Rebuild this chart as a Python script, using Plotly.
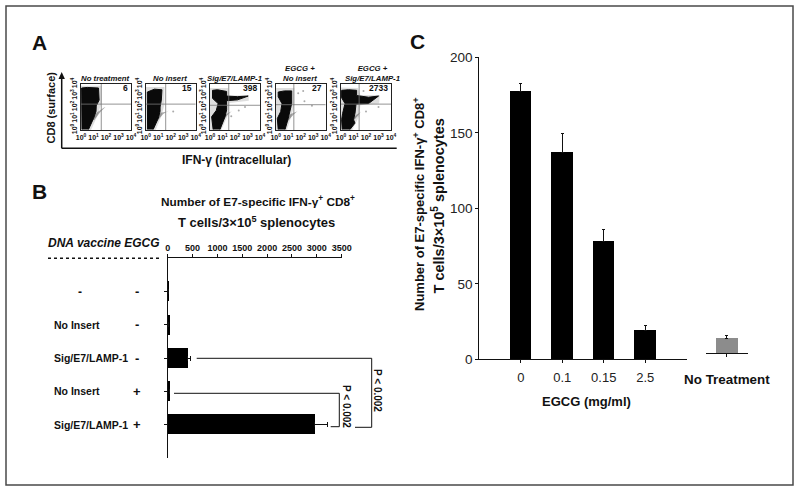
import plotly.graph_objects as go

W, H = 800, 492
FONT = "Liberation Sans"
INK = "#111111"

# ---------- Panel A : flow plots (log10 decades on both axes) ----------
flow_titles = ["No treatment", "No insert", "Sig/E7/LAMP-1", "EGCG +<br>No insert", "EGCG +<br>Sig/E7/LAMP-1"]
flow_counts = ["6", "15", "398", "27", "2733"]
flow_ticks = [0, 1, 2, 3, 4]
flow_ticktext = ["10<sup>0</sup>", "10<sup>1</sup>", "10<sup>2</sup>", "10<sup>3</sup>", "10<sup>4</sup>"]
gate_x = [1.62, 1.6, 1.5, 1.45, 1.45]
gate_y = [2.25, 2.25, 2.15, 2.2, 2.25]

blob_x = [
    [0.08, 0.05, 0.5, 1.4, 1.45, 1.22, 1.2, 1.0, 0.6],
    [0.15, 0.13, 0.7, 1.3, 1.25, 1.15, 1.15, 1.0, 0.6],
    [0.25, 0.13, 0.5, 0.65, 0.2, 0.2, 0.6, 1.33, 1.33, 2.2, 3.05, 2.2, 1.33, 1.33, 1.2, 0.8],
    [0.2, 0.13, 0.4, 0.5, 0.2, 0.2, 0.7, 1.28, 1.28, 1.15, 1.0, 0.75],
    [0.1, 0.05, 0.13, 0.32, 0.05, 0.05, 0.6, 1.25, 1.25, 2.2, 3.0, 2.2, 1.2, 1.12, 1.0, 1.12, 0.72],
]
blob_y = [
    [0.05, 3.65, 3.7, 3.65, 2.6, 2.1, 1.6, 1.0, 0.05],
    [0.05, 3.3, 3.55, 3.5, 2.6, 2.0, 1.6, 1.0, 0.05],
    [0.05, 1.15, 1.7, 2.3, 2.75, 3.45, 3.5, 3.35, 2.95, 2.9, 2.95, 2.62, 2.55, 1.75, 1.15, 0.05],
    [0.05, 1.0, 1.6, 2.3, 2.9, 3.3, 3.4, 3.4, 2.3, 1.6, 1.0, 0.05],
    [0.05, 0.9, 1.45, 2.3, 2.8, 3.45, 3.5, 3.45, 3.0, 2.85, 2.95, 2.3, 2.25, 1.45, 0.9, 0.6, 0.05],
]
tail_x = [
    [0.9, 1.3, 1.85, 1.95, 1.5, 1.05],
    [0.9, 1.2, 1.75, 1.85, 1.4, 1.0],
    [0.9, 1.3, 1.7, 1.8, 1.4, 1.0],
    [0.9, 1.2, 1.7, 1.8, 1.4, 1.0],
    [0.9, 1.2, 1.5, 1.6, 1.4, 1.0],
]
tail_y = [
    [1.0, 1.55, 1.95, 2.0, 1.5, 0.85],
    [1.0, 1.5, 1.6, 1.7, 1.4, 0.9],
    [1.0, 1.4, 1.6, 1.7, 1.3, 0.8],
    [1.0, 1.4, 1.6, 1.7, 1.3, 0.8],
    [1.0, 1.3, 1.5, 1.6, 1.3, 0.8],
]
halo_x = [
    [0.0, 0.0, 1.65, 1.65, 1.3, 0.8],
    [0.0, 0.0, 1.5, 1.5, 1.25, 0.8],
    [0.0, 0.0, 1.45, 1.55, 3.1, 3.1, 1.55, 1.4, 0.9],
    [0.0, 0.0, 1.5, 1.5, 1.25, 0.9],
    [0.0, 0.0, 1.35, 1.55, 3.1, 3.05, 1.55, 1.45, 0.9],
]
halo_y = [
    [0.0, 3.85, 3.85, 2.4, 1.2, 0.0],
    [0.0, 3.75, 3.75, 2.2, 1.2, 0.0],
    [0.0, 3.65, 3.65, 3.0, 3.05, 2.55, 2.35, 1.2, 0.0],
    [0.0, 3.65, 3.65, 2.2, 1.2, 0.0],
    [0.0, 3.7, 3.65, 3.05, 3.05, 2.3, 2.15, 1.2, 0.0],
]
speck_x = [[], [2.2], [2.3, 2.8, 1.7], [2.3, 2.9, 2.2, 1.8], [2.0, 3.0, 1.8]]
speck_y = [[], [1.6], [1.7, 2.0, 1.2], [2.5, 2.1, 3.4, 3.2], [1.6, 2.0, 3.4]]

# ---------- Panel B ----------
b_dna = ["-", "No Insert", "Sig/E7/LAMP-1", "No Insert", "Sig/E7/LAMP-1"]
b_egcg = ["-", "-", "-", "+", "+"]
b_pos = [0, 1, 2, 3, 4]
b_values = [6, 25, 395, 30, 2960]
b_err = [None, None, 55, None, 250]
b_ticks = [0, 500, 1000, 1500, 2000, 2500, 3000, 3500]

# ---------- Panel C ----------
c_labels = ["0", "0.1", "0.15", "2.5"]
c_pos = [0, 1, 2, 3]
c_values = [177.5, 136.8, 78.2, 19]
c_err = [5.3, 12.6, 8, 3.3]
c_ticks = [0, 50, 100, 150, 200]
ctrl_label = ["No Treatment"]
ctrl_value = [14]
ctrl_base = [4]
ctrl_err = [1.7]


def px(x):
    return x / W


def py(y):
    return 1 - y / H


fig = go.Figure()
layout = dict(
    width=W, height=H, margin=dict(l=0, r=0, t=0, b=0, autoexpand=False),
    paper_bgcolor="white", plot_bgcolor="rgba(0,0,0,0)", showlegend=False,
    font=dict(family=FONT, color=INK), bargap=0,
)
ann = []
shp = []


def text(x, y, s, size, angle=0, xanchor="center", yanchor="middle"):
    ann.append(dict(x=px(x), y=py(y), xref="paper", yref="paper", text=s, showarrow=False,
                    font=dict(family=FONT, size=size, color=INK), textangle=angle,
                    xanchor=xanchor, yanchor=yanchor, borderpad=0, borderwidth=0))


def line(x0, y0, x1, y1, width=1.2, dash="solid", color=INK):
    shp.append(dict(type="line", xref="paper", yref="paper", x0=px(x0), y0=py(y0), x1=px(x1), y1=py(y1),
                    line=dict(color=color, width=width, dash=dash)))


# Flow panels
flow_left = [81, 145.7, 210, 275.7, 341]
flow_right = [131, 195.7, 260, 325.7, 391]
flow_center = [104.5, 170, 234, 300, 372]
FT, FB = 84, 130
for i in range(5):
    n = i + 1
    xa, ya = f"x{n}", f"y{n}"
    fig.add_trace(go.Scatter(x=halo_x[i], y=halo_y[i], xaxis=xa, yaxis=ya, mode="lines", fill="toself",
                             fillcolor="rgba(0,0,0,0.13)", line=dict(width=0), hoverinfo="skip"))
    fig.add_trace(go.Scatter(x=tail_x[i], y=tail_y[i], xaxis=xa, yaxis=ya, mode="lines", fill="toself",
                             fillcolor="rgba(40,40,40,0.4)", line=dict(width=0), hoverinfo="skip"))
    fig.add_trace(go.Scatter(x=blob_x[i], y=blob_y[i], xaxis=xa, yaxis=ya, mode="lines", fill="toself",
                             fillcolor="#0a0a0a", line=dict(width=1, color="#0a0a0a"), hoverinfo="skip"))
    fig.add_trace(go.Scatter(x=speck_x[i], y=speck_y[i], xaxis=xa, yaxis=ya, mode="markers",
                             marker=dict(size=2, color="#aaaaaa"), hoverinfo="skip"))
    fig.add_trace(go.Scatter(x=[gate_x[i], gate_x[i]], y=[0, 4], xaxis=xa, yaxis=ya, mode="lines",
                             line=dict(color="#777777", width=0.8), hoverinfo="skip"))
    fig.add_trace(go.Scatter(x=[0, 4], y=[gate_y[i], gate_y[i]], xaxis=xa, yaxis=ya, mode="lines",
                             line=dict(color="#777777", width=0.8), hoverinfo="skip"))
    common = dict(range=[0, 4], tickmode="array", tickvals=flow_ticks, ticktext=flow_ticktext,
                  showgrid=False, zeroline=False, showline=True, mirror=True, linecolor="#222222",
                  linewidth=1.2, ticks="", tickfont=dict(family=FONT, size=7, weight="bold", color=INK))
    layout[f"xaxis{n}" if n > 1 else "xaxis"] = dict(common, domain=[px(flow_left[i]), px(flow_right[i])],
                                                     anchor=ya, tickangle=0)
    layout[f"yaxis{n}" if n > 1 else "yaxis"] = dict(common, domain=[py(FB), py(FT)], anchor=xa, tickangle=-90)
    ann.append(dict(x=3.9, y=3.62, xref=xa, yref=ya, text=f"<b>{flow_counts[i]}</b>", showarrow=False,
                    xanchor="right", yanchor="middle", font=dict(family=FONT, size=8.5, color=INK)))
    text(flow_center[i], 83, f"<b><i>{flow_titles[i]}</i></b>", 7.8, yanchor="bottom")

# Panel A axes arrow and labels
line(61.7, 148.3, 396.7, 148.3, 1.5)
line(61.7, 148.3, 61.7, 75, 1.5)
shp.append(dict(type="path", xref="paper", yref="paper", fillcolor=INK, line=dict(width=0),
                path=f"M {px(58.5)} {py(79)} L {px(64.9)} {py(79)} L {px(61.7)} {py(72)} Z"))
text(50, 107.5, "<b>CD8 (surface)</b>", 11, angle=-90)
text(236, 160, "<b>IFN-γ (intracellular)</b>", 12)
text(39, 42.5, "<b>A</b>", 21)
text(39, 191, "<b>B</b>", 21)
text(417, 41.5, "<b>C</b>", 21)

# Panel B
fig.add_trace(go.Bar(x=b_values, y=b_pos, orientation="h", xaxis="x6", yaxis="y6", width=0.6,
                     marker=dict(color="#000000", line=dict(width=0)),
                     error_x=dict(type="data", array=b_err, symmetric=False, color=INK, thickness=1, width=2.5)))
layout["xaxis6"] = dict(domain=[px(167.7), px(341.7)], anchor="y6", side="top", range=[0, 3500],
                        tickmode="array", tickvals=b_ticks, ticks="outside", ticklen=3, tickwidth=1,
                        tickcolor=INK, showline=True, linecolor=INK, linewidth=1.2, showgrid=False,
                        zeroline=False, tickfont=dict(family=FONT, size=9, weight="bold", color=INK), tickangle=0)
layout["yaxis6"] = dict(domain=[py(458), py(258.3)], anchor="x6", range=[5, -1], tickmode="array",
                        tickvals=b_pos, ticktext=[""] * 5, ticks="outside", ticklen=3, tickwidth=1, tickcolor=INK,
                        showline=True, linecolor=INK, linewidth=1.2, showgrid=False, zeroline=False)
text(258, 201.5, "<b>Number of E7-specific IFN-γ<sup>+</sup> CD8<sup>+</sup></b>", 11.8)
text(256.7, 222.5, "<b>T cells/3×10<sup>5</sup> splenocytes</b>", 13)
text(48, 243, "<b><i>DNA vaccine EGCG</i></b>", 12, xanchor="left")
line(48, 258.3, 161.7, 258.3, 1.5, dash="dot")
for i in range(5):
    lab = b_dna[i]
    ann.append(dict(xref="paper", yref="y6", x=px(80) if lab == "-" else px(52), y=b_pos[i],
                    text=f"<b>{lab}</b>", showarrow=False, xanchor="center" if lab == "-" else "left",
                    font=dict(family=FONT, size=12 if lab == "-" else 10.5, color=INK)))
    ann.append(dict(xref="paper", yref="y6", x=px(136.7), y=b_pos[i], text=f"<b>{b_egcg[i]}</b>", showarrow=False,
                    xanchor="center", font=dict(family=FONT, size=13, color=INK)))
# significance brackets
for seg in [(196.7, 358.3, 371.7, 358.3), (371.7, 358.3, 371.7, 427.3), (371.7, 427.3, 355, 427.3),
            (174, 393.3, 339.3, 393.3), (339.3, 393.3, 339.3, 426.7), (339.3, 426.7, 330.7, 426.7)]:
    line(*seg, 1)
text(378, 390, "<b>P &lt; 0.002</b>", 10, angle=90)
text(346.7, 406.7, "<b>P &lt; 0.002</b>", 10, angle=90)

# Panel C
fig.add_trace(go.Bar(x=c_pos, y=c_values, xaxis="x7", yaxis="y7", width=0.52,
                     marker=dict(color="#000000", line=dict(width=0)),
                     error_y=dict(type="data", array=c_err, symmetric=False, color=INK, thickness=1, width=1.5)))
layout["xaxis7"] = dict(domain=[px(479.3), px(686.7)], anchor="y7", range=[-1, 4], tickmode="array",
                        tickvals=c_pos, ticktext=c_labels, ticks="outside", ticklen=3, tickwidth=1, tickcolor=INK,
                        showline=True, linecolor=INK, linewidth=1.2, showgrid=False, zeroline=False,
                        ticklabelstandoff=3, tickfont=dict(family=FONT, size=13, color="#222222"))
layout["yaxis7"] = dict(domain=[py(359.3), py(57.3)], anchor="x7", range=[0, 200], tickmode="array",
                        tickvals=c_ticks, ticks="outside", ticklen=3, tickwidth=1, tickcolor=INK,
                        showline=True, linecolor=INK, linewidth=1.2, showgrid=False, zeroline=False,
                        tickfont=dict(family=FONT, size=13.5, color="#222222"))
fig.add_trace(go.Bar(x=[0], y=[ctrl_value[0] - ctrl_base[0]], base=ctrl_base, xaxis="x8", yaxis="y7", width=0.52,
                     marker=dict(color="#8c8c8c", line=dict(width=0)),
                     error_y=dict(type="data", array=ctrl_err, symmetric=False, color=INK, thickness=1, width=1.5)))
layout["xaxis8"] = dict(domain=[px(706), px(747.7)], anchor="free", position=py(353.3),
                        range=[-0.5, 0.5], tickmode="array", tickvals=[0], ticktext=[f"<b>{ctrl_label[0]}</b>"],
                        ticks="outside", ticklen=3, tickwidth=1, tickcolor=INK, showline=True, linecolor=INK,
                        linewidth=1.2, showgrid=False, zeroline=False, ticklabelstandoff=11, tickangle=0,
                        tickfont=dict(family=FONT, size=13.4, color=INK))
text(419, 204, "<b>Number of E7-specific IFN-γ<sup>+</sup> CD8<sup>+</sup></b>", 13, angle=-90)
text(438, 206.5, "<b>T cells/3×10<sup>5</sup> splenocytes</b>", 14.5, angle=-90)
text(586.5, 401.5, "<b>EGCG (mg/ml)</b>", 13)

# Image frame
shp.append(dict(type="rect", xref="paper", yref="paper", x0=px(6), y0=py(485), x1=px(793), y1=py(6),
                line=dict(color="#4a4a4a", width=1.5), fillcolor="rgba(0,0,0,0)"))

fig.update_layout(**layout, annotations=ann, shapes=shp)
fig.write_html("out.html", config={"displayModeBar": False}, post_script="document.body.style.margin='0';")
